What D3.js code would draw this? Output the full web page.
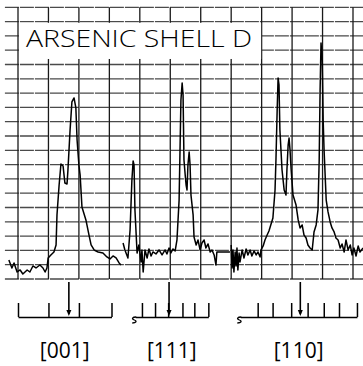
<!DOCTYPE html>
<html><head><meta charset="utf-8">
<script src="https://cdn.jsdelivr.net/npm/d3@7"></script>
<style>html,body{margin:0;padding:0;background:#fff;}svg{display:block;}text{-webkit-font-smoothing:antialiased;}</style>
</head><body>
<svg id="chart" width="363" height="366"></svg>
<script>
// ---- data (x in grid divisions, y in grid divisions above chart floor) ----
const title = "ARSENIC SHELL D";
const directions = ["[001]", "[111]", "[110]"];

const seg001X = [-0.30,-0.20,-0.13,-0.03,0.07,0.16,0.30,0.39,0.49,0.59,0.72,0.82,0.89,0.95,0.99,1.08,1.18,1.25,1.28,1.35,1.41,1.48,1.54,1.61,1.64,1.71,1.77,1.84,1.90,1.94,2.00,2.04,2.10,2.23,2.33,2.40,2.50,2.63,2.79,2.92,3.02,3.12,3.22,3.32,3.38];
const seg001Y = [1.33,0.77,1.12,0.49,0.63,0.35,0.63,0.49,0.91,0.77,0.98,0.77,0.49,0.77,1.47,1.68,1.89,2.38,4.48,6.57,8.04,7.90,6.71,6.64,7.62,10.42,12.38,12.66,11.96,9.72,7.97,7.27,5.03,4.13,3.08,2.38,2.03,1.89,1.82,1.54,1.40,1.61,1.47,1.12,0.98];

const seg111X = [3.45,3.51,3.61,3.68,3.74,3.78,3.81,3.84,3.91,3.97,4.04,4.07,4.11,4.17,4.24,4.30,4.37,4.43,4.53,4.63,4.73,4.83,4.89,4.96,5.02,5.09,5.16,5.22,5.29,5.32,5.35,5.39,5.42,5.45,5.49,5.52,5.55,5.58,5.62,5.65,5.68,5.75,5.78,5.85,5.91,5.98,6.04,6.11,6.17,6.24,6.31,6.37,6.44,6.50,6.53,6.96];
const seg111Y = [2.52,2.03,1.47,3.43,6.92,8.25,7.97,4.83,1.82,2.38,1.19,2.03,0.49,2.03,1.47,2.10,1.61,1.89,1.75,2.03,1.68,2.03,1.75,2.17,1.82,2.10,1.96,2.73,5.52,9.02,12.52,13.71,12.87,8.32,7.27,6.57,6.22,7.97,8.88,7.97,5.87,4.48,2.94,2.38,2.73,2.03,2.52,2.73,2.17,2.45,1.89,2.03,1.68,0.98,1.89,1.89];

const seg110X = [7.00,7.03,7.06,7.09,7.13,7.16,7.19,7.22,7.26,7.29,7.36,7.42,7.49,7.55,7.62,7.68,7.75,7.82,7.88,7.95,7.98,8.05,8.11,8.18,8.24,8.31,8.37,8.44,8.47,8.51,8.54,8.57,8.60,8.67,8.74,8.80,8.83,8.87,8.90,8.93,8.97,9.03,9.13,9.20,9.26,9.33,9.39,9.46,9.52,9.59,9.66,9.72,9.79,9.85,9.89,9.92,9.95,9.99,10.02,10.05,10.12,10.18,10.25,10.31,10.38,10.44,10.51,10.58,10.64,10.71,10.77,10.84,10.91,10.97,11.03,11.10,11.17,11.23,11.33];
const seg110Y = [2.38,0.77,2.03,0.49,1.89,0.91,2.17,0.63,1.82,1.19,2.03,1.47,2.10,1.68,2.03,1.61,1.96,1.68,1.89,1.54,2.03,2.31,2.73,3.08,3.36,3.85,4.27,6.22,8.32,11.82,14.06,13.57,10.42,7.62,6.22,5.87,7.62,9.37,9.86,9.09,7.62,5.87,5.17,4.13,3.57,3.78,3.08,2.87,2.38,2.17,2.03,3.29,3.78,4.83,8.32,13.22,16.50,15.31,11.12,9.02,5.52,4.69,3.99,3.57,3.29,2.87,2.73,2.17,2.45,1.89,2.73,2.03,2.38,1.68,2.17,1.61,2.31,1.89,2.17];

// orientation scales under the traces: [start, end] and tick positions, arrow position
const axis001Range = [0, 3.07], axis001Ticks = [0, 1, 2, 3.07], arrow001 = 1.67;
const axis111Range = [3.85, 6.25], axis111Ticks = [4.07, 4.5, 4.93, 5.4, 5.79, 6.25], arrow111 = 4.96;
const axis110Range = [7.3, 11.13], axis110Ticks = [7.87, 8.36, 8.97, 9.51, 10.04, 10.54, 11.13], arrow110 = 9.27;

// ---- drawing ----
const svg = d3.select("#chart");
const x = d3.scaleLinear().domain([0, 11]).range([18, 353]);
const y = d3.scaleLinear().domain([0, 19]).range([279, 7.3]);
const xLeft = -0.43, xRight = 11.45;

// horizontal grid
svg.append("g").selectAll("line").data(d3.range(0, 20)).join("line")
  .attr("x1", x(xLeft)).attr("x2", x(xRight))
  .attr("y1", d => y(d)).attr("y2", d => y(d))
  .attr("stroke", "#4a4a4a").attr("stroke-width", 1.3)
  .attr("stroke-dasharray", "14,1");
// vertical grid
svg.append("g").selectAll("line").data(d3.range(0, 12)).join("line")
  .attr("x1", d => x(d)).attr("x2", d => x(d))
  .attr("y1", y(19)).attr("y2", y(0))
  .attr("stroke", "#1a1a1a").attr("stroke-width", 1.3);

// title box
svg.append("rect").attr("x", x(0) + 1).attr("y", y(18) + 1.2)
  .attr("width", x(8) - x(0) - 1.5).attr("height", y(15.4) - y(18) - 1)
  .attr("fill", "#fff");
svg.append("text").text(title)
  .attr("x", 26).attr("y", 47)
  .attr("textLength", 226).attr("lengthAdjust", "spacingAndGlyphs")
  .attr("font-family", "'Open Sans', 'DejaVu Sans', sans-serif")
  .attr("font-weight", 300).attr("font-size", 23).attr("fill", "#000");

// traces
const line = d3.line().x(d => x(d[0])).y(d => y(d[1]));
[[seg001X, seg001Y], [seg111X, seg111Y], [seg110X, seg110Y]].forEach(([xs, ys]) => {
  svg.append("path").datum(xs.map((v, i) => [v, ys[i]]))
    .attr("d", line).attr("fill", "none").attr("stroke", "#000")
    .attr("stroke-width", 1.5).attr("stroke-linejoin", "round");
});

// orientation axes
const axisY = 317;
const axes = [
  [axis001Range, axis001Ticks, arrow001, directions[0], false],
  [axis111Range, axis111Ticks, arrow111, directions[1], true],
  [axis110Range, axis110Ticks, arrow110, directions[2], true]
];
axes.forEach(([rng, ticks, arr, lab, squiggle]) => {
  const s = x.copy().domain(rng).range([x(rng[0]), x(rng[1])]);
  const g = svg.append("g").attr("transform", `translate(0,${axisY})`)
    .call(d3.axisTop(s).tickValues(ticks).tickSize(14).tickSizeOuter(0).tickFormat(""));
  g.select(".domain").attr("stroke", "#000").attr("stroke-width", 1.5);
  g.selectAll(".tick line").attr("stroke", "#000").attr("stroke-width", 1.5);
  if (squiggle) {
    const sx = x(rng[0]);
    svg.append("path")
      .attr("d", `M${sx+1},${axisY} C${sx-3},${axisY} ${sx-4},${axisY+2} ${sx-1},${axisY+3} C${sx+2},${axisY+4} ${sx+1},${axisY+6} ${sx-3},${axisY+6}`)
      .attr("fill", "none").attr("stroke", "#000").attr("stroke-width", 1.3);
  }
  // arrow
  svg.append("line").attr("x1", x(arr)).attr("x2", x(arr))
    .attr("y1", 282).attr("y2", axisY - 3)
    .attr("stroke", "#000").attr("stroke-width", 1.6);
  svg.append("path")
    .attr("d", `M${x(arr)-2.5},${axisY-7} L${x(arr)+2.5},${axisY-7} L${x(arr)},${axisY-1} Z`)
    .attr("fill", "#000");
  svg.append("text").text(lab)
    .attr("x", (x(rng[0]) + x(rng[1])) / 2).attr("y", 358)
    .attr("text-anchor", "middle")
    .attr("font-family", "'Open Sans', 'DejaVu Sans', sans-serif")
    .attr("font-weight", 400).attr("font-size", 21).attr("fill", "#000");
});
</script>
</body></html>
